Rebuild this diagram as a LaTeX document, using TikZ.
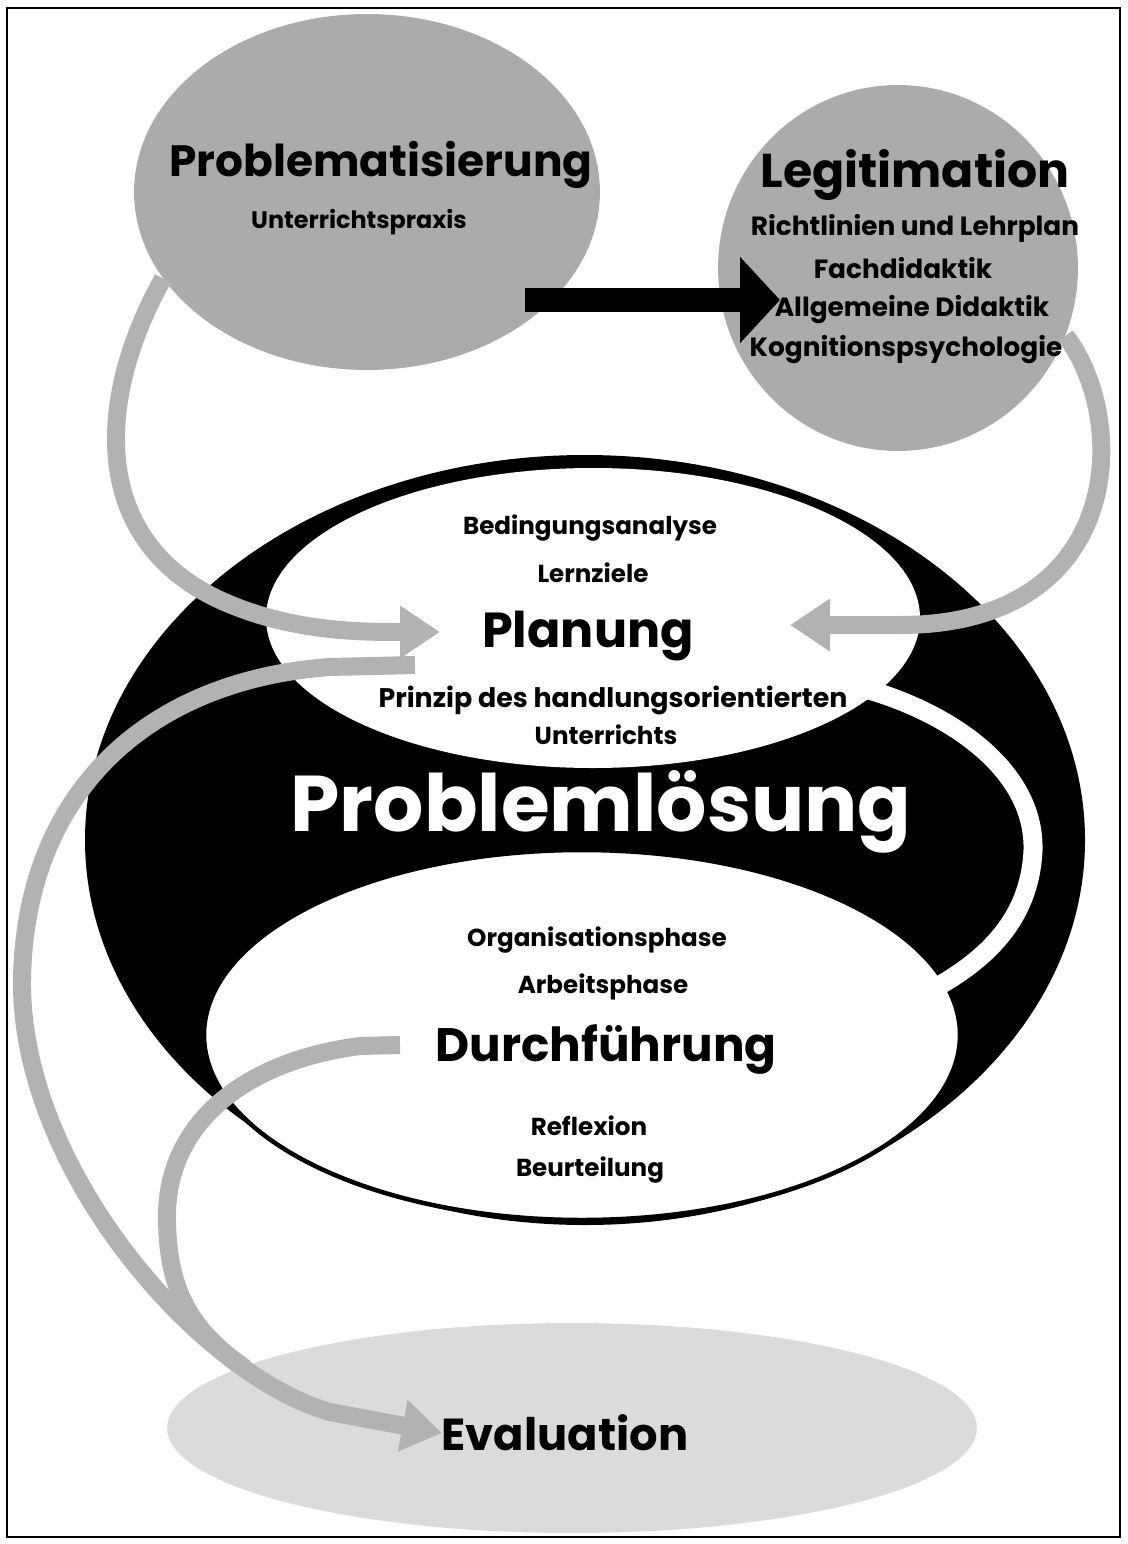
\documentclass[tikz,border=0pt]{standalone}
\usepackage{fontspec}
\setmainfont{Poppins}
\usetikzlibrary{arrows.meta,shapes.geometric}
\tikzset{
    grau/.style={ellipse,fill=black!33,inner sep=0pt},
    band/.style={draw=black!30,line width=0.36cm},
    bandpfeil/.style={band,-{Triangle[length=0.8cm,width=1cm]}},
    titel/.style={font=\bfseries\fontsize{26}{26}\selectfont},
    mittel/.style={font=\bfseries\fontsize{15}{15}\selectfont},
    klein/.style={font=\bfseries\fontsize{14}{14}\selectfont},
}
\begin{document}
\begin{tikzpicture}[x=0.02cm,y=-0.02cm]
                \useasboundingbox (0,0) rectangle (1128,1544);
                \draw[line width=0.7pt] (7,8) rectangle (1120,1537);
                \node[grau,fill=black!14,minimum width=16.2cm,minimum height=4.2cm] (eval) at (572,1428) {};
                \node[grau,minimum width=9.32cm,minimum height=7.12cm] (probl) at (367,192) {};
                \node[grau,minimum width=7.2cm,minimum height=7.32cm] (legit) at (898,268) {};
                % Problemloesung
                \fill (585,840) ellipse [x radius=500,y radius=385];
                \fill[white] (593,618) ellipse [x radius=327,y radius=150];
                \draw[fill=white,line width=0.09cm] (582,1035) ellipse [x radius=378,y radius=185];
                \draw[white,line width=0.38cm] (862,688) .. controls (950,712) and (1035,770) .. (1033,850)
                    .. controls (1030,920) and (985,960) .. (935,988);
                \coordinate (planL) at (440,632);
                \coordinate (planR) at (790,625);
                \coordinate (planS) at (415,665);
                \coordinate (durchS) at (400,1045);
                \coordinate (evalL) at (442,1433);
                \coordinate (legitL) at (780,300);
                \coordinate (problR) at (525,300);
                \draw[bandpfeil] (probl.203) .. controls (95,400) and (90,540) .. (220,600)
                    .. controls (290,632) and (360,632) .. (planL);
                \draw[bandpfeil] (legit.338) .. controls (1130,420) and (1125,625) .. (900,625) -- (planR);
                \draw[band] (durchS) -- (360,1046) .. controls (250,1060) and (165,1120) .. (167,1220)
                    .. controls (168,1290) and (190,1330) .. (245,1368);
                \draw[bandpfeil] (planS) -- (330,667) .. controls (150,680) and (25,790) .. (22,980)
                    .. controls (20,1170) and (200,1375) .. (330,1412) -- (evalL);
                \draw[line width=0.48cm,-{Triangle[length=0.8cm,width=1.68cm]}] (problR) -- (legitL);
                \node[titel,font=\bfseries\fontsize{25}{25}\selectfont] (t1) at (381,165) {Problematisierung};
                \node[font=\bfseries\fontsize{13.6}{14}\selectfont] (t2) at (359,222) {Unterrichtspraxis};
                \node[titel,font=\bfseries\fontsize{27}{27}\selectfont] (l1) at (915,175) {Legitimation};
                \node[mittel] (l2) at (915,228) {Richtlinien und Lehrplan};
                \node[mittel] (l3) at (903,268) {Fachdidaktik};
                \node[mittel] (l4) at (912,310) {Allgemeine Didaktik};
                \node[mittel] (l5) at (906,350) {Kognitionspsychologie};
                \node[klein] (p1) at (590,528) {Bedingungsanalyse};
                \node[klein] (p2) at (593,573) {Lernziele};
                \node[font=\bfseries\fontsize{28}{28}\selectfont] (plan) at (588,636) {Planung};
                \node[klein,font=\bfseries\fontsize{15.3}{16}\selectfont] (p3) at (613,700) {Prinzip des handlungsorientierten};
                \node[klein] (p4) at (606,735) {Unterrichts};
                \node[white,font=\bfseries\fontsize{45}{45}\selectfont] (pl) at (601,812) {Problemlösung};
                \node[klein] (d1) at (597,940) {Organisationsphase};
                \node[klein] (d2) at (603,987) {Arbeitsphase};
                \node[font=\bfseries\fontsize{26.7}{27}\selectfont] (durch) at (606,1050) {Durchführung};
                \node[klein] (d3) at (589,1126) {Reflexion};
                \node[klein] (d4) at (590,1170) {Beurteilung};
                \node[font=\bfseries\fontsize{25.5}{26}\selectfont] (ev) at (565,1433) {Evaluation};
\end{tikzpicture}
\end{document}
